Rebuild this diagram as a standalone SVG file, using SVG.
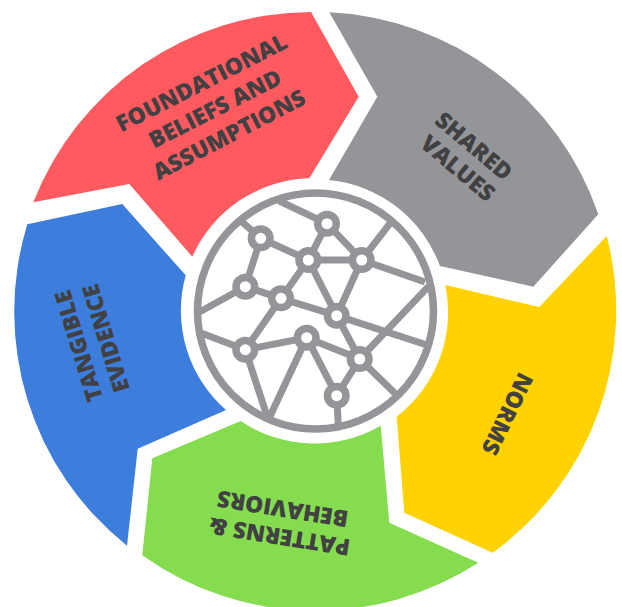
<svg xmlns="http://www.w3.org/2000/svg" width="622" height="607" viewBox="0 0 622 607">
<style>
.t{font-family:"Open Sans","Liberation Sans",sans-serif;font-weight:800;font-size:22.8px;fill:#414042;text-anchor:middle}
.l{fill:none;stroke:#939598;stroke-width:7;stroke-linecap:butt}
.n{fill:#fff;stroke:#939598;stroke-width:7.5}
</style>
<rect width="622" height="607" fill="#fff"/>
<g id="foundational">
<path d="M311 12L358.7 96.7L309.3 178.3A132 132 0 0 0 192.3 256.7L129.3 184L33.3 202.3A299 299 0 0 1 311 12Z" fill="#FF5A5F"/>
<text class="t" transform="translate(201.5 82.5) rotate(-27)" dy=".36em">FOUNDATIONAL</text>
<text class="t" transform="translate(215 108.5) rotate(-27)" dy=".36em">BELIEFS AND</text>
<text class="t" transform="translate(229 134.5) rotate(-27.5)" dy=".36em">ASSUMPTIONS</text>
</g>
<g id="shared-values">
<path d="M329.3 12.3A299 299 0 0 1 598.3 214.3L533.3 286.7L440 266A132 132 0 0 0 329 180L377.3 96.7Z" fill="#939598"/>
<text class="t" transform="translate(474 146) rotate(40)" dy=".36em">SHARED</text>
<text class="t" transform="translate(458 168) rotate(40)" dy=".36em">VALUES</text>
</g>
<g id="norms">
<path d="M606.7 236A299 299 0 0 1 492.7 552.7L404.3 512.7L396.7 416.7A132 132 0 0 0 445.3 285L539.3 307Z" fill="#FFD200"/>
<text class="t" transform="translate(507.5 414) rotate(116)" dy=".36em">NORMS</text>
</g>
<g id="patterns-behaviors">
<path d="M478.3 562.7A299 299 0 0 1 142.3 555.3L152.3 458.3L240.7 421A132 132 0 0 0 380.7 425.7L389.3 522.7Z" fill="#84DC4E"/>
<text class="t" transform="translate(279.5 536.7) rotate(189)" dy=".36em">PATTERNS &amp;</text>
<text class="t" transform="translate(282.5 509) rotate(189)" dy=".36em">BEHAVIORS</text>
</g>
<g id="tangible-evidence">
<path d="M127 545.7A299 299 0 0 1 27.3 224.3L122.3 204L185.7 275.3A132 132 0 0 0 226 410L137.7 448.7Z" fill="#3D7DDB"/>
<text class="t" transform="translate(78.5 346) rotate(-107)" dy=".36em">TANGIBLE</text>
<text class="t" transform="translate(105.8 338.3) rotate(-107)" dy=".36em">EVIDENCE</text>
</g>
<g id="connectors">
<path class="l" d="M279.3 201L327 223.7M241.7 221.7L260.7 238.3M260.7 238.3L308.3 260M260.7 238.3L245.3 286.7M327 223.7L308.3 260M327 223.7L361.7 260M308.3 260L361.7 260M308.3 260L281 298.3M308.3 260L336.7 315.7M361.7 260L336.7 315.7M361.7 260L390 223.3M361.7 260L425 282M245.3 286.7L281 298.3M245.3 286.7L200 311.7M281 298.3L336.7 315.7M281 298.3L245.3 349.7M336.7 315.7L427 345M336.7 315.7L359.7 359M245.3 349.7L201.7 333.3M245.3 349.7L306.7 337.7M245.3 349.7L268.3 420M306.7 337.7L268.3 420M306.7 337.7L359.7 359M306.7 337.7L336.7 395.7M359.7 359L336.7 395.7M359.7 359L428.3 286.7M359.7 359L396.7 395M336.7 395.7L338.3 425"/>
</g>
<g id="network-icon">
<circle cx="315.5" cy="311" r="118" fill="none" stroke="#939598" stroke-width="7.5"/>
<circle class="n" cx="260.7" cy="238.3" r="9.3"/>
<circle class="n" cx="327" cy="223.7" r="9.3"/>
<circle class="n" cx="308.3" cy="260" r="9.3"/>
<circle class="n" cx="361.7" cy="260" r="9.3"/>
<circle class="n" cx="245.3" cy="286.7" r="9.3"/>
<circle class="n" cx="281" cy="298.3" r="9.3"/>
<circle class="n" cx="336.7" cy="315.7" r="9.3"/>
<circle class="n" cx="245.3" cy="349.7" r="9.3"/>
<circle class="n" cx="306.7" cy="337.7" r="9.3"/>
<circle class="n" cx="359.7" cy="359" r="9.3"/>
<circle class="n" cx="336.7" cy="395.7" r="9.3"/>
</g>
</svg>
